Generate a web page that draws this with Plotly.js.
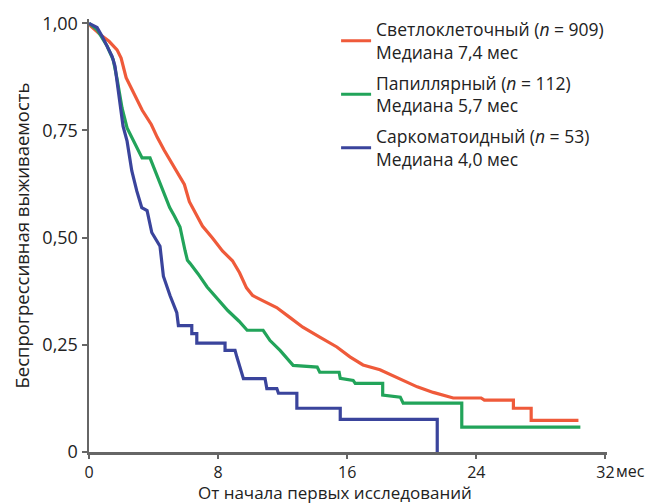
<!DOCTYPE html>
<html><head><meta charset="utf-8">
<script src="https://cdn.plot.ly/plotly-3.0.1.min.js"></script>
<style>html,body{margin:0;padding:0;background:#fff}#chart{width:654px;height:503px}</style>
</head><body><div id="chart"></div>
<script>
// Светлоклеточный (n = 909)
const clearT = [0,0.12,0.75,1.24,1.74,1.99,2.3,2.8,3.3,3.86,4.23,4.66,5.41,5.91,6.22,6.65,7.03,7.65,8.27,8.89,9.33,9.76,10.14,10.76,11.63,12.44,13.25,14.3,15.36,16.17,16.98,18.03,19.09,20.34,21.33,22.57,24.3,24.5,26.3,26.3,27.4,27.4,30.33];
const clearS = [1,0.993,0.972,0.958,0.938,0.919,0.873,0.834,0.797,0.764,0.734,0.704,0.654,0.624,0.584,0.554,0.527,0.499,0.469,0.446,0.418,0.383,0.365,0.353,0.337,0.314,0.291,0.268,0.245,0.222,0.203,0.192,0.173,0.152,0.139,0.126,0.126,0.121,0.121,0.102,0.102,0.074,0.074];
// Папиллярный (n = 112)
const papT = [0,0.5,1.12,1.5,1.74,2.05,2.36,2.85,3.29,3.78,4.09,4.53,5.0,5.3,5.64,5.95,6.1,6.26,6.75,7.32,7.94,8.6,9.3,9.8,10.79,11.22,11.84,12.65,14.14,14.3,15.5,15.57,16.37,16.5,18.2,18.2,19.29,19.47,23.1,23.1,30.45];
const papS = [1,0.985,0.947,0.915,0.87,0.802,0.756,0.719,0.686,0.686,0.656,0.616,0.57,0.55,0.525,0.47,0.447,0.44,0.416,0.385,0.357,0.33,0.305,0.284,0.284,0.26,0.237,0.202,0.198,0.186,0.186,0.172,0.167,0.16,0.16,0.133,0.128,0.114,0.114,0.058,0.058];
// Саркоматоидный (n = 53)
const sarT = [0,0.5,0.81,1.12,1.43,1.61,1.74,1.92,2.11,2.36,2.54,2.65,2.96,3.27,3.6,3.89,4.4,4.61,5.02,5.44,5.54,6.37,6.37,6.68,6.68,8.43,8.43,9.05,9.16,9.57,10.91,11.02,11.64,11.74,12.88,12.88,15.57,15.57,21.58,21.58];
const sarS = [1,0.99,0.97,0.947,0.923,0.9,0.86,0.807,0.76,0.725,0.68,0.656,0.609,0.57,0.563,0.512,0.48,0.41,0.365,0.325,0.295,0.295,0.276,0.276,0.254,0.254,0.237,0.237,0.222,0.171,0.171,0.148,0.148,0.137,0.137,0.102,0.102,0.076,0.076,0];

const seriesNames = [
  'Светлоклеточный (<i>n</i> = 909)<br>Медиана 7,4 мес',
  'Папиллярный (<i>n</i> = 112)<br>Медиана 5,7 мес',
  'Саркоматоидный (<i>n</i> = 53)<br>Медиана 4,0 мес'
];
const seriesColors = ['#EF5A3A','#22A45A','#3A449C'];
const yTickVals = [0,0.25,0.5,0.75,1];
const yTickText = ['0','0,25','0,50','0,75','1,00'];
const xTickVals = [0,8,16,24,32];
const xTickText = ['0','8','16','24','32'];
const xTitle = 'От начала первых исследований';
const yTitle = 'Беспрогрессивная выживаемость';
const xUnit = 'мес';

const FONT = 'Open Sans, Noto Sans, sans-serif';
const xs = [clearT,papT,sarT], ys = [clearS,papS,sarS];
const data = xs.map((x,i)=>({
  x:x, y:ys[i], type:'scatter', mode:'lines', name:seriesNames[i],
  line:{color:seriesColors[i], width:3.2}, legendgroup:'g'+i
}));

const axisCol = '#666666';
const layout = {
  width:654, height:503,
  margin:{l:89, r:47, t:18, b:51},
  paper_bgcolor:'#fff', plot_bgcolor:'#fff',
  font:{family:FONT, size:17, color:'#222'},
  showlegend:true,
  legend:{x:0.477, xanchor:'left', y:1.015, yanchor:'top', bgcolor:'rgba(0,0,0,0)',
    font:{family:FONT, size:17.5, color:'#222'}, traceorder:'grouped', tracegroupgap:5},
  xaxis:{range:[0,32.1], tickvals:xTickVals, ticktext:xTickText, showgrid:false, zeroline:false,
    showline:true, linecolor:axisCol, linewidth:2.5, ticks:'outside', ticklen:4, tickwidth:2, tickcolor:axisCol,
    tickfont:{size:16}},
  yaxis:{range:[0,1.01], tickvals:yTickVals, ticktext:yTickText, showgrid:false, zeroline:false,
    showline:true, linecolor:axisCol, linewidth:2.5, ticks:'outside', ticklen:5, tickwidth:2, tickcolor:axisCol,
    tickfont:{size:18}, title:{text:yTitle, font:{size:18.5}, standoff:8}},
  annotations:[
    {xref:'x', yref:'paper', x:32, y:0, xanchor:'left', yanchor:'top', xshift:9, yshift:-6,
      text:xUnit, showarrow:false, font:{size:16, color:'#222'}},
    {xref:'paper', yref:'paper', x:0.475, y:0, xanchor:'center', yanchor:'top', yshift:-27,
      text:xTitle, showarrow:false, font:{size:17, color:'#222'}}
  ]
};
Plotly.newPlot('chart', data, layout, {displayModeBar:false, staticPlot:true});
</script></body></html>
